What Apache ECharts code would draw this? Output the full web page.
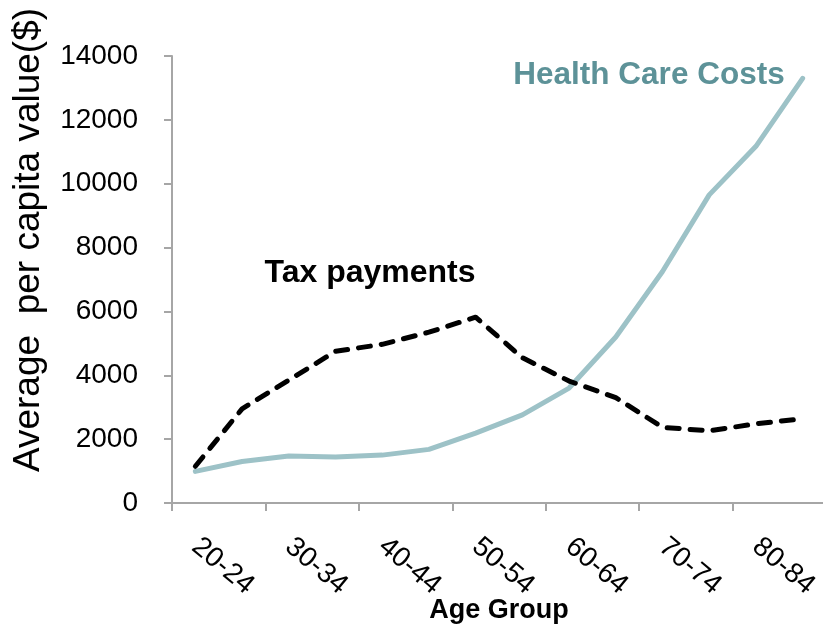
<!DOCTYPE html>
<html>
<head>
<meta charset="utf-8">
<script src="https://cdn.jsdelivr.net/npm/echarts@6/dist/echarts.min.js"></script>
<style>
  html, body { margin: 0; padding: 0; background: #ffffff; }
  #chart { width: 823px; height: 629px; }
</style>
</head>
<body>
<div id="chart"></div>
<script>
// Age bands (every other one is labelled on the axis)
const ageGroups = ['20-24', '25-29', '30-34', '35-39', '40-44', '45-49', '50-54',
                   '55-59', '60-64', '65-69', '70-74', '75-79', '80-84', '85+'];

// Average per capita values in dollars
const healthCareCosts = [990, 1300, 1470, 1440, 1500, 1680, 2190, 2760, 3600, 5200, 7250, 9650, 11170, 13300];
const taxPayments     = [1150, 2950, 3850, 4750, 4970, 5350, 5820, 4550, 3820, 3300, 2370, 2260, 2480, 2640];

// Value axis ticks
const yMin = 0, yMax = 14000, yStep = 2000;

const FONT = '"Liberation Sans", Arial, Helvetica, sans-serif';
const AXIS_GREY = '#A6A6A6';
const HEALTH_COLOR = '#9DC2C7';
const HEALTH_TEXT = '#5D9298';

const chart = echarts.init(document.getElementById('chart'), null, { renderer: 'canvas' });

chart.setOption({
  backgroundColor: '#ffffff',
  animation: false,
  grid: {
    left: 172, right: -3, top: 56, bottom: 126,
    containLabel: false,
    outerBoundsMode: 'none'
  },
  xAxis: {
    type: 'category',
    data: ageGroups,
    boundaryGap: true,
    axisLine: { show: true, lineStyle: { color: AXIS_GREY, width: 2 } },
    axisTick: { show: true, length: 8, alignWithLabel: false, lineStyle: { color: AXIS_GREY, width: 2 } },
    axisLabel: {
      interval: 1,
      rotate: -40,
      margin: 40,
      fontFamily: FONT,
      fontSize: 28,
      color: '#000000'
    },
    splitLine: { show: false }
  },
  yAxis: {
    type: 'value',
    min: yMin,
    max: yMax,
    interval: yStep,
    axisLine: { show: true, lineStyle: { color: AXIS_GREY, width: 2 } },
    axisTick: { show: true, length: 8, lineStyle: { color: AXIS_GREY, width: 2 } },
    axisLabel: {
      margin: 34,
      fontFamily: FONT,
      fontSize: 28,
      color: '#000000',
      formatter: (v) => String(v)
    },
    splitLine: { show: false }
  },
  series: [
    {
      name: 'Health Care Costs',
      type: 'line',
      data: healthCareCosts,
      showSymbol: false,
      symbol: 'none',
      smooth: false,
      lineStyle: { color: HEALTH_COLOR, width: 5, join: 'round', cap: 'round' },
      z: 2
    },
    {
      name: 'Tax payments',
      type: 'line',
      data: taxPayments,
      showSymbol: false,
      symbol: 'none',
      smooth: false,
      lineStyle: { color: '#000000', width: 5, type: [12, 11], cap: 'round', join: 'round' },
      z: 3
    }
  ],
  graphic: [
    {
      // x-axis title
      type: 'text',
      x: 499,
      y: 611,
      style: {
        text: 'Age Group',
        fontFamily: FONT,
        fontSize: 27,
        fontWeight: 'bold',
        fill: '#000000',
        align: 'center',
        verticalAlign: 'middle'
      }
    },
    {
      // y-axis title
      type: 'text',
      rotation: Math.PI / 2,
      x: 29,
      y: 240,
      style: {
        text: 'Average  per capita value($)',
        fontFamily: FONT,
        fontSize: 37,
        fill: '#000000',
        align: 'center',
        verticalAlign: 'middle'
      }
    },
    {
      type: 'text',
      x: 649,
      y: 75,
      style: {
        text: 'Health Care Costs',
        fontFamily: FONT,
        fontSize: 31.5,
        fontWeight: 'bold',
        fill: HEALTH_TEXT,
        align: 'center',
        verticalAlign: 'middle'
      }
    },
    {
      type: 'text',
      x: 370,
      y: 273,
      style: {
        text: 'Tax payments',
        fontFamily: FONT,
        fontSize: 32,
        fontWeight: 'bold',
        fill: '#000000',
        align: 'center',
        verticalAlign: 'middle'
      }
    }
  ]
});
</script>
</body>
</html>
